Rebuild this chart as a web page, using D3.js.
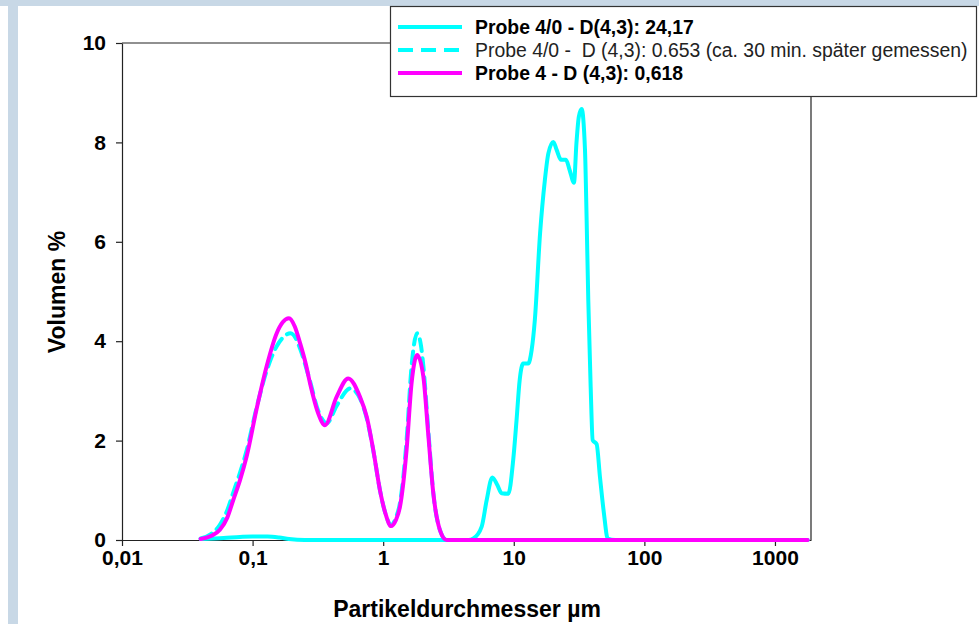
<!DOCTYPE html>
<html>
<head>
<meta charset="utf-8">
<script src="https://cdn.jsdelivr.net/npm/d3@7/dist/d3.min.js"></script>
<style>
  body { margin: 0; background: #fff; }
  svg text { font-family: "Liberation Sans", Arial, sans-serif; }
</style>
</head>
<body>
<svg id="chart" width="979" height="624"></svg>
<script>
// Daten
var xTicks = [0.01, 0.1, 1, 10, 100, 1000];
var xTickLabels = ["0,01", "0,1", "1", "10", "100", "1000"];
var yTicks = [0, 2, 4, 6, 8, 10];

// Probe 4/0 - D(4,3): 24,17
var p40Size = [0.040, 0.06, 0.08, 0.10, 0.13, 0.16, 0.19, 0.25, 1, 4.5, 4.9, 5.68, 6.2, 6.85, 7.5, 8.08, 9.08, 9.9, 10.5, 11.1, 11.8, 12.9, 13.7, 14.5, 15.9, 17.3, 18.4, 20.1, 21.3, 23.0, 25.1, 26.8, 28.9, 30.2, 31.5, 33.1, 35.1, 36.1, 37.2, 38.8, 40.2, 43.1, 45.7, 49, 52.4, 60, 1780];
var p40Vol  = [0.02, 0.04, 0.06, 0.07, 0.07, 0.05, 0.02, 0, 0, 0, 0.03, 0.27, 0.8, 1.26, 1.1, 0.94, 0.93, 1.61, 2.41, 3.22, 3.55, 3.55, 3.82, 4.43, 6.17, 7.24, 7.78, 8.01, 7.85, 7.65, 7.65, 7.44, 7.19, 7.99, 8.52, 8.67, 7.85, 6.5, 4.83, 3.08, 2.01, 1.93, 1.27, 0.54, 0.03, 0, 0];

// Probe 4/0 - 30 min spaeter
var p40bSize = [0.040, 0.048, 0.056, 0.064, 0.071, 0.080, 0.090, 0.107, 0.128, 0.153, 0.175, 0.195, 0.215, 0.231, 0.255, 0.275, 0.318, 0.37, 0.44, 0.56, 0.664, 0.748, 0.84, 0.945, 1.05, 1.148, 1.25, 1.345, 1.51, 1.65, 1.82, 1.95, 2.03, 2.21, 2.42, 2.72, 3.06, 1780];
var p40bVol  = [0.03, 0.12, 0.3, 0.6, 0.95, 1.35, 1.8, 2.65, 3.4, 3.9, 4.1, 4.16, 4.05, 3.85, 3.5, 3.2, 2.6, 2.35, 2.7, 3.05, 2.85, 2.45, 1.8, 1.0, 0.5, 0.3, 0.45, 0.75, 2.0, 3.5, 4.16, 3.9, 3.5, 2.25, 0.95, 0.2, 0, 0];

// Probe 4 - D (4,3): 0,618
var p4Size = [0.040, 0.048, 0.056, 0.064, 0.071, 0.080, 0.090, 0.107, 0.128, 0.153, 0.170, 0.190, 0.210, 0.231, 0.255, 0.275, 0.318, 0.358, 0.44, 0.54, 0.664, 0.748, 0.84, 0.945, 1.05, 1.148, 1.25, 1.345, 1.51, 1.65, 1.82, 2.03, 2.21, 2.42, 2.72, 3.06, 1780];
var p4Vol  = [0.02, 0.08, 0.2, 0.45, 0.8, 1.2, 1.68, 2.62, 3.49, 4.16, 4.38, 4.46, 4.3, 3.96, 3.55, 3.16, 2.55, 2.31, 2.88, 3.25, 2.88, 2.48, 1.81, 1.0, 0.5, 0.28, 0.4, 0.67, 1.81, 3.16, 3.72, 3.29, 2.15, 0.94, 0.2, 0, 0];

var legendLabels = [
  "Probe 4/0 - D(4,3): 24,17",
  "Probe 4/0 -  D (4,3): 0.653 (ca. 30 min. später gemessen)",
  "Probe 4 - D (4,3): 0,618"
];

var svg = d3.select("#chart");
var plot = {left: 122, right: 811, top: 43, bottom: 540};

// Hintergrundstreifen
svg.append("rect").attr("x", 0).attr("y", 0).attr("width", 979).attr("height", 6).attr("fill", "#c8d8e6");
svg.append("rect").attr("x", 8).attr("y", 0).attr("width", 10).attr("height", 624).attr("fill", "#c8d8e6");

var x = d3.scaleLog().domain([0.01, 1888]).range([plot.left, plot.right]);
var y = d3.scaleLinear().domain([0, 10]).range([plot.bottom, plot.top]);

// Rahmen oben / rechts
svg.append("line").attr("x1", plot.left).attr("x2", plot.right).attr("y1", plot.top).attr("y2", plot.top)
  .attr("stroke", "#222").attr("stroke-width", 1.2);
svg.append("line").attr("x1", plot.right).attr("x2", plot.right).attr("y1", plot.top).attr("y2", plot.bottom)
  .attr("stroke", "#222").attr("stroke-width", 1.2);

var xAxis = d3.axisBottom(x).tickValues(xTicks).tickFormat(function(d, i) { return xTickLabels[i]; })
  .tickSizeOuter(0).tickSizeInner(6).tickPadding(4);
var gx = svg.append("g").attr("transform", "translate(0," + plot.bottom + ")").call(xAxis);

var yAxis = d3.axisLeft(y).tickValues(yTicks).tickSizeOuter(0).tickSizeInner(6).tickPadding(10);
var gy = svg.append("g").attr("transform", "translate(" + plot.left + ",0)").call(yAxis);

[gx, gy].forEach(function(g) {
  g.selectAll("path.domain").attr("stroke", "#222").attr("stroke-width", 1.2);
  g.selectAll(".tick line").attr("stroke", "#222").attr("stroke-width", 1.2);
  g.selectAll(".tick text").attr("fill", "#000").style("font-size", "21px").style("font-weight", "bold")
    .style("font-family", "'Liberation Sans', Arial, sans-serif");
});

// Achsentitel
svg.append("text").attr("x", 467).attr("y", 617).attr("text-anchor", "middle")
  .style("font-size", "23px").style("font-weight", "bold").text("Partikeldurchmesser µm");
svg.append("text").attr("transform", "translate(65,292) rotate(-90)").attr("text-anchor", "middle")
  .style("font-size", "23px").style("font-weight", "bold").text("Volumen %");

var line = d3.line()
  .x(function(d) { return x(d[0]); })
  .y(function(d) { return y(d[1]); })
  .curve(d3.curveMonotoneX);

function pairs(s, v) { return s.map(function(d, i) { return [d, v[i]]; }); }

var series = [
  {data: pairs(p40Size, p40Vol), color: "#00ffff", dash: null},
  {data: pairs(p40bSize, p40bVol), color: "#00ffff", dash: "12,7"},
  {data: pairs(p4Size, p4Vol), color: "#ff00ff", dash: null}
];

series.forEach(function(s) {
  svg.append("path").datum(s.data).attr("d", line)
    .attr("fill", "none").attr("stroke", s.color).attr("stroke-width", 4)
    .attr("stroke-linejoin", "round").attr("stroke-linecap", "round")
    .attr("stroke-dasharray", s.dash);
});

// Legende
var leg = svg.append("g");
leg.append("rect").attr("x", 390.5).attr("y", 6.5).attr("width", 586).attr("height", 90)
  .attr("fill", "#fff").attr("stroke", "#333").attr("stroke-width", 1.2);
series.forEach(function(s, i) {
  var ly = 27 + i * 23;
  leg.append("line").attr("x1", 398).attr("x2", 462).attr("y1", ly).attr("y2", ly)
    .attr("stroke", s.color).attr("stroke-width", 4).attr("stroke-dasharray", s.dash ? "15,8" : null);
  leg.append("text").attr("x", 475).attr("y", ly).attr("dy", "0.35em")
    .attr("xml:space", "preserve").style("white-space", "pre")
    .style("font-size", "19.4px").style("font-weight", i === 1 ? "normal" : "bold")
    .attr("fill", i === 1 ? "#222" : "#000")
    .text(legendLabels[i]);
});
</script>
</body>
</html>
